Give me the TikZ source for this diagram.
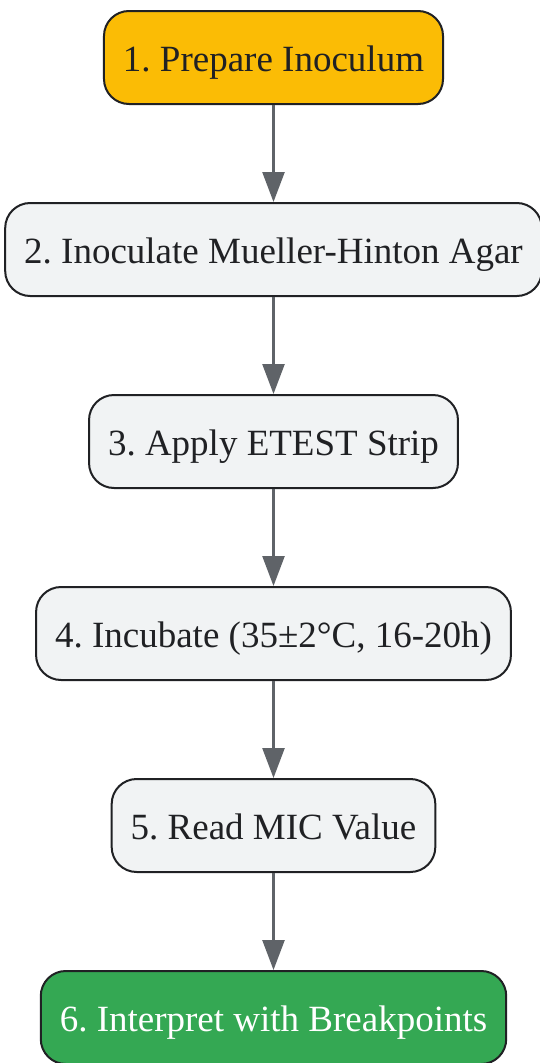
\documentclass[tikz,border=0pt]{standalone}
\usepackage{fontspec}
\setmainfont{Liberation Serif}
\usepackage{tikz}
\usetikzlibrary{arrows.meta,positioning}
\definecolor{stepgray}{HTML}{F1F3F4}
\definecolor{startorange}{HTML}{FBBC05}
\definecolor{endgreen}{HTML}{34A853}
\definecolor{edgegray}{HTML}{5F6368}
\definecolor{textdark}{HTML}{202124}
\frenchspacing
\tikzset{
    %Define standard arrow tip
    >={Triangle[width=22pt,length=30pt]},
    font=\fontsize{37}{44}\selectfont,
    %Define style for boxes
    stepbox/.style={
           rectangle,
           rounded corners=25pt,
           draw=textdark, line width=2pt,
           fill=stepgray,
           text=textdark,
           inner xsep=19pt,
           text height=28pt, text depth=0pt,
           outer sep=1pt,
           minimum height=93pt},
    startbox/.style={stepbox, fill=startorange},
    endbox/.style={stepbox, fill=endgreen, text=white},
    % Define arrow style
    pil/.style={
           ->,
           draw=edgegray,
           line width=2.5pt}
}

\begin{document}
\begin{tikzpicture}[node distance=97pt]
  \useasboundingbox (0pt,0pt) rectangle (539pt,-1063pt);
  \node[startbox] (prep) at (273.5pt,-57.5pt) {1. Prepare Inoculum};
  \node[stepbox] (inoc) [below=of prep] {2. Inoculate Mueller-Hinton Agar};
  \node[stepbox] (strip) [below=of inoc] {3. Apply ETEST Strip};
  \node[stepbox] (incub) [below=of strip] {4. Incubate (35±2°C, 16-20h)};
  \node[stepbox] (read) [below=of incub] {5. Read MIC Value};
  \node[endbox] (interp) [below=of read] {6. Interpret with Breakpoints};
  \draw[pil] (prep) -- (inoc);
  \draw[pil] (inoc) -- (strip);
  \draw[pil] (strip) -- (incub);
  \draw[pil] (incub) -- (read);
  \draw[pil] (read) -- (interp);
\end{tikzpicture}
\end{document}
